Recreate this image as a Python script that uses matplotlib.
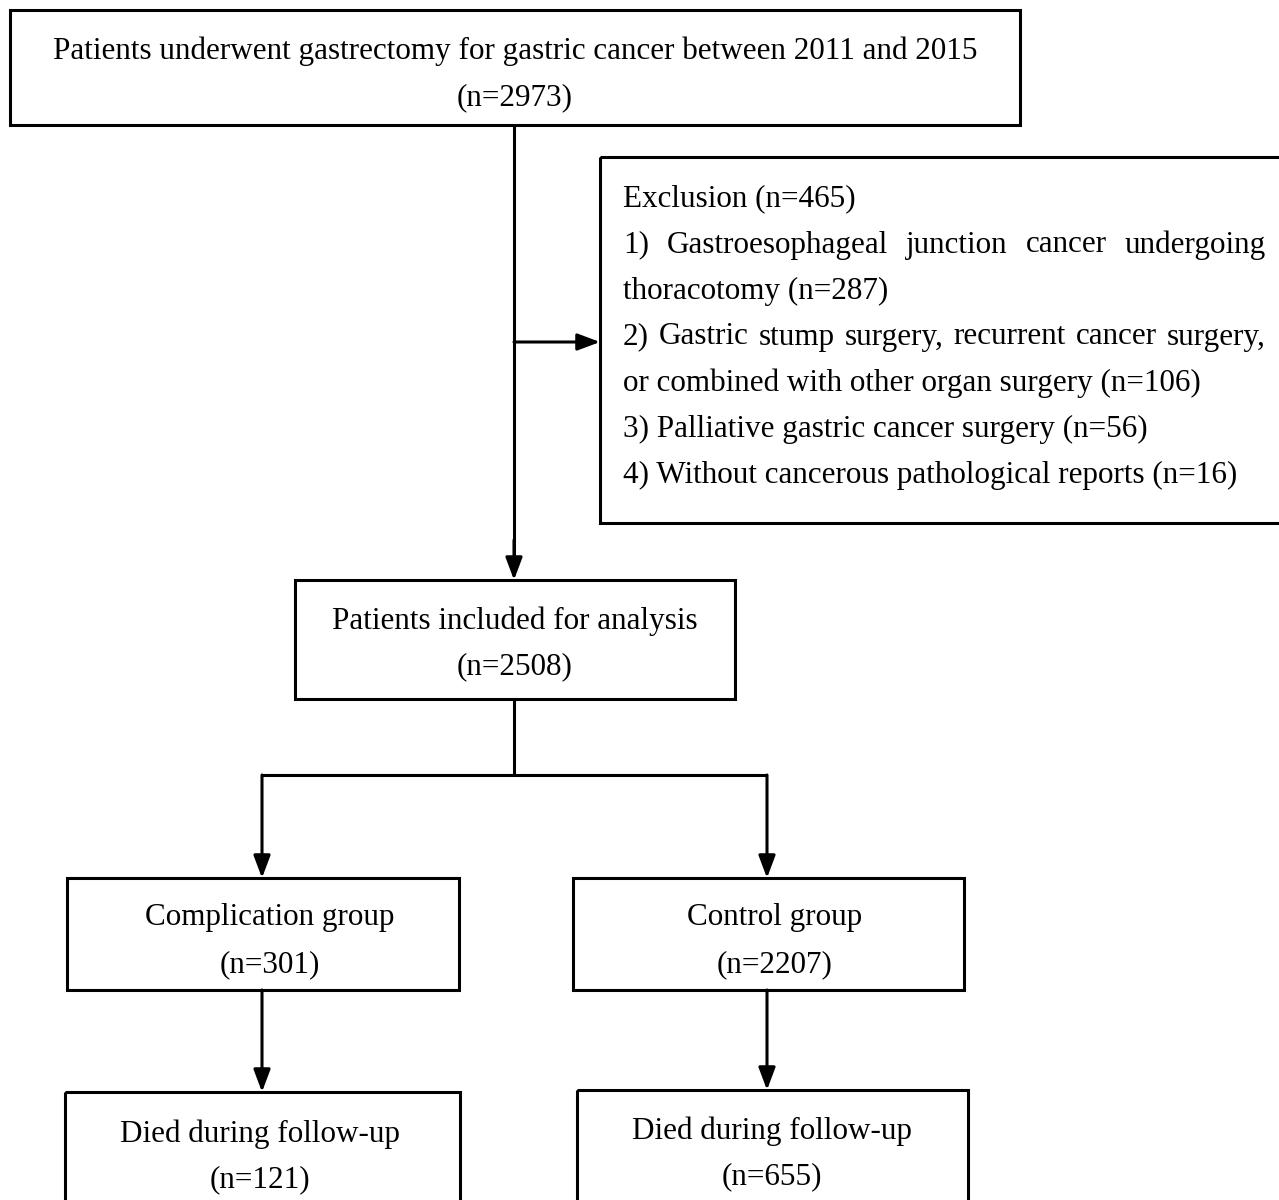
import matplotlib.pyplot as plt
from matplotlib.patches import Rectangle

plt.rcParams['font.family'] = ['Liberation Serif', 'DejaVu Serif']

# Flowchart texts
top_lines = ['Patients underwent gastrectomy for gastric cancer between 2011 and 2015', '(n=2973)']
excl_lines = ['Exclusion (n=465)',
              '1) Gastroesophageal junction cancer undergoing',
              'thoracotomy (n=287)',
              '2) Gastric stump surgery, recurrent cancer surgery,',
              'or combined with other organ surgery (n=106)',
              '3) Palliative gastric cancer surgery (n=56)',
              '4) Without cancerous pathological reports (n=16)']
excl_justified = [False, True, False, True, False, False, False]
incl_lines = ['Patients included for analysis', '(n=2508)']
comp_lines = ['Complication group', '(n=301)']
ctrl_lines = ['Control group', '(n=2207)']
died_comp = ['Died during follow-up', '(n=121)']
died_ctrl = ['Died during follow-up', '(n=655)']

FS = 22.4
LW = 2.2
DY = 3  # small downward nudge for text baseline

fig = plt.figure(figsize=(12.79, 12.0), dpi=100)
ax = fig.add_axes([0, 0, 1, 1])
ax.set_xlim(0, 1279)
ax.set_ylim(1200, 0)
ax.axis('off')


def box(x0, y0, x1, y1):
    ax.add_patch(Rectangle((x0, y0), x1 - x0, y1 - y0, fill=False, lw=LW, ec='black', clip_on=True))


def centered(lines, xc, ys):
    for s, y in zip(lines, ys):
        ax.text(xc, y + DY, s, ha='center', va='center', fontsize=FS)


def line(xs, ys):
    ax.plot(xs, ys, color='black', lw=LW, solid_capstyle='butt')


def arrow(x0, y0, x1, y1):
    ax.annotate('', xy=(x1, y1), xytext=(x0, y0),
                arrowprops=dict(arrowstyle='-|>,head_length=0.8,head_width=0.3', color='black',
                                lw=LW, shrinkA=0, shrinkB=0, mutation_scale=17))


# top box
box(10, 10, 1020, 125)
centered(top_lines, 515, [48, 95])

# exclusion box
box(600, 157, 1290, 523)
fig.canvas.draw()
r = fig.canvas.get_renderer()
left, right = 623, 1266
inv = ax.transData.inverted()
for i, (s, just) in enumerate(zip(excl_lines, excl_justified)):
    y = 196 + i * 46 + DY
    if not just:
        ax.text(left, y, s, ha='left', va='center', fontsize=FS)
        continue
    words = s.split()
    ts = [ax.text(0, y, w, ha='left', va='center', fontsize=FS) for w in words]
    widths = []
    for t in ts:
        bb = t.get_window_extent(renderer=r)
        p0 = inv.transform((bb.x0, bb.y0))
        p1 = inv.transform((bb.x1, bb.y1))
        widths.append(p1[0] - p0[0])
    gap = (right - left - sum(widths)) / (len(words) - 1)
    x = left
    for t, w in zip(ts, widths):
        t.set_x(x)
        x += w + gap

# main flow
line([514, 514], [125, 560])
arrow(514, 342, 600, 342)
arrow(514, 540, 514, 580)

box(295, 580, 735, 699)
centered(incl_lines, 515, [618, 664])

line([514, 514], [699, 775])
line([262, 767], [775, 775])
arrow(262, 775, 262, 878)
arrow(767, 775, 767, 878)

box(67, 878, 459, 990)
centered(comp_lines, 270, [915, 962])
box(573, 878, 964, 990)
centered(ctrl_lines, 775, [915, 962])

arrow(262, 990, 262, 1092)
arrow(767, 990, 767, 1090)

box(65, 1092, 460, 1230)
centered(died_comp, 260, [1131, 1177])
box(577, 1090, 968, 1230)
centered(died_ctrl, 772, [1128, 1174])

fig.savefig('out.png', dpi=100, facecolor='white')
